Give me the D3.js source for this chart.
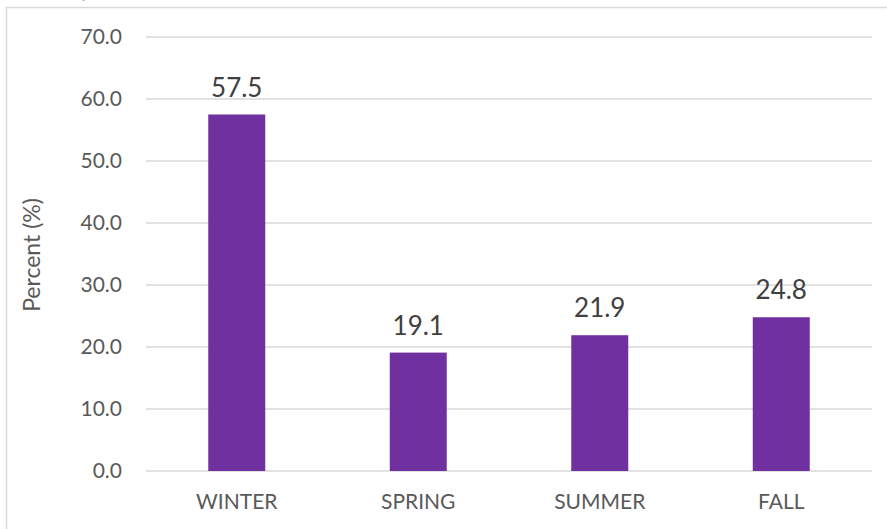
<!DOCTYPE html>
<html>
<head>
<meta charset="utf-8">
<script src="https://cdn.jsdelivr.net/npm/d3@7"></script>
<style>
    body { margin: 0; background: #fff; }
    svg { display: block; font-family: Lato, "Open Sans", sans-serif; }
</style>
</head>
<body>
<svg id="chart"></svg>
<script>
const seasons = ["WINTER", "SPRING", "SUMMER", "FALL"];
const percents = [57.5, 19.1, 21.9, 24.8];
const yTicks = [0, 10, 20, 30, 40, 50, 60, 70];

const width = 887, height = 529;
const margin = { top: 37, right: 15, bottom: 58, left: 146 };
const innerW = 872 - margin.left;
const innerH = 471 - margin.top;

const svg = d3.select("#chart")
    .attr("width", width)
    .attr("height", height);

// chart area border (only left and top visible in the crop)
svg.append("path")
    .attr("d", `M6.5,${height} V7.5 H${width}`)
    .attr("fill", "none")
    .attr("stroke", "#d9d9d9")
    .attr("stroke-width", 1.5);

// clipped title remnant
svg.append("text")
    .attr("x", 82)
    .attr("y", -2)
    .attr("font-size", 20)
    .attr("fill", "#404040")
    .text(")");

const g = svg.append("g")
    .attr("transform", `translate(${margin.left}, ${margin.top})`);

const x = d3.scaleBand()
    .domain(seasons)
    .range([0, innerW])
    .paddingInner(0.686)
    .paddingOuter(0.343);

const y = d3.scaleLinear()
    .domain([0, 70])
    .range([innerH, 0]);

// gridlines
g.append("g")
    .selectAll("line")
    .data(yTicks)
    .join("line")
    .attr("x1", 0)
    .attr("x2", innerW)
    .attr("y1", d => y(d))
    .attr("y2", d => y(d))
    .attr("stroke", "#d9d9d9")
    .attr("stroke-width", 1.5);

// y axis labels
const yAxis = g.append("g")
    .call(d3.axisLeft(y).tickValues(yTicks).tickFormat(d3.format(".1f")).tickSize(0).tickPadding(24));
yAxis.select(".domain").remove();
yAxis.selectAll("text")
    .attr("font-family", "Lato, 'Open Sans', sans-serif")
    .attr("font-size", 21)
    .attr("fill", "#595959");

// bars
g.selectAll(".bar")
    .data(percents)
    .join("rect")
    .attr("class", "bar")
    .attr("x", (d, i) => x(seasons[i]))
    .attr("y", d => y(d))
    .attr("width", x.bandwidth())
    .attr("height", d => innerH - y(d))
    .attr("fill", "#7030a0");

// value labels
g.selectAll(".val")
    .data(percents)
    .join("text")
    .attr("class", "val")
    .attr("x", (d, i) => x(seasons[i]) + x.bandwidth() / 2)
    .attr("y", d => y(d) - 18)
    .attr("text-anchor", "middle")
    .attr("font-size", 26)
    .attr("fill", "#404040")
    .text(d => d.toFixed(1));

// x axis labels
const xAxis = g.append("g")
    .attr("transform", `translate(0, ${innerH})`)
    .call(d3.axisBottom(x).tickSize(0).tickPadding(23));
xAxis.select(".domain").remove();
xAxis.selectAll("text")
    .attr("font-family", "Lato, 'Open Sans', sans-serif")
    .attr("font-size", 21)
    .attr("fill", "#595959");

// y axis title
svg.append("text")
    .attr("transform", "translate(40, 255) rotate(-90)")
    .attr("text-anchor", "middle")
    .attr("font-size", 23)
    .attr("fill", "#595959")
    .text("Percent (%)");
</script>
</body>
</html>
